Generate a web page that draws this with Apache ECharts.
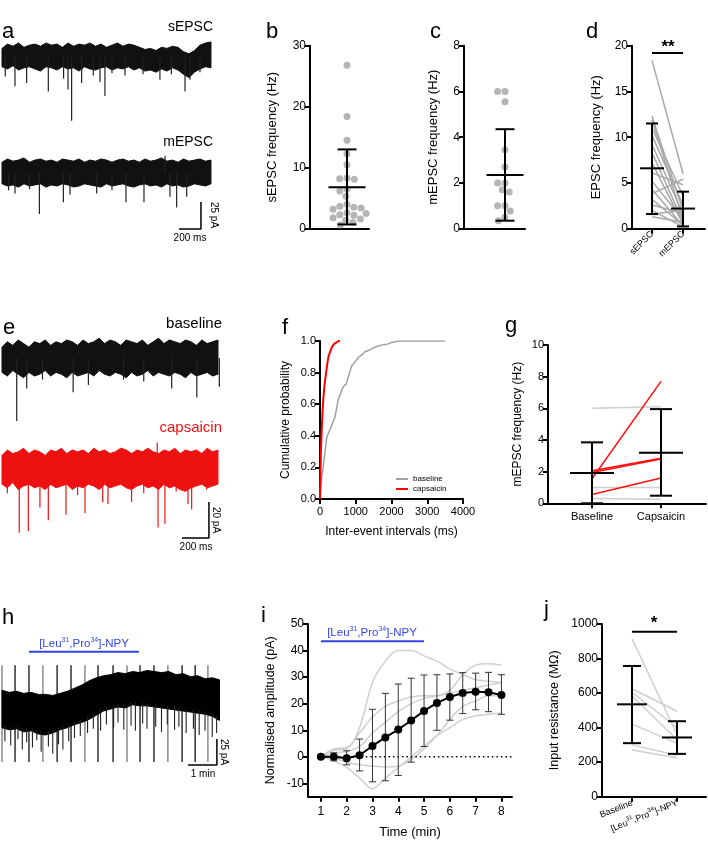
<!DOCTYPE html>
<html><head><meta charset="utf-8">
<script src="https://cdn.jsdelivr.net/npm/echarts@6/dist/echarts.min.js"></script>
<style>html,body{margin:0;padding:0;background:#fff}#c{width:708px;height:845px}</style>
</head><body><div id="c"></div><script>
const FONT = "'Liberation Sans', Arial, Helvetica, sans-serif";

// ================= DATA =================
// a: sEPSC / mEPSC traces (time ms, current pA relative to holding level)
const A_T = [0,50,100,150,200,250,300,350,400,450,500,550,600,650,700,750,800,850,900,950,1000,1050,1100,1150,1200,1250,1300,1350,1400,1450,1500,1550,1600,1650,1700,1750,1800,1850,1900];
const A_SEPSC_UP = [8,12,10,13,9,11,12,10,13,11,12,9,13,10,12,11,13,10,12,9,11,13,10,12,11,9,7,8,6,9,8,10,9,5,3,6,11,13,14];
const A_SEPSC_LO = [-9,-11,-8,-12,-10,-9,-11,-13,-9,-10,-12,-9,-11,-10,-13,-9,-11,-12,-10,-9,-12,-10,-11,-9,-12,-10,-13,-12,-14,-11,-13,-10,-12,-16,-19,-14,-11,-9,-10];
const A_SEPSC_EVENTS = [[30,-18],[118,-27],[224,-24],[421,-32],[560,-20],[600,-30],[633,-59],[724,-24],[830,-17],[891,-23],[936,-36],[1000,-15],[1118,-17],[1282,-16],[1436,-21],[1540,-16],[1664,-32],[1709,-21],[1800,-14]];
const A_MEPSC_UP = [10,13,11,12,14,10,12,13,11,12,10,13,12,11,13,10,12,11,13,12,10,12,13,11,12,10,13,11,12,14,11,12,10,13,11,12,13,11,12];
const A_MEPSC_LO = [-10,-12,-11,-13,-10,-12,-11,-10,-13,-11,-12,-10,-11,-13,-12,-10,-11,-12,-13,-10,-12,-11,-10,-12,-13,-11,-10,-12,-11,-13,-10,-12,-11,-13,-12,-10,-11,-12,-10];
const A_MEPSC_EVENTS = [[60,-16],[118,-19],[250,-15],[340,-38],[558,-27],[618,-20],[861,-19],[1000,-16],[1127,-27],[1291,-27],[1482,16],[1527,-22],[1588,-32],[1679,-22]];
const A_SCALE = [200, 25]; // ms, pA

// b: sEPSC frequency (Hz)
const B_SEPSC = [26.8,18.4,14.5,12.3,10.5,8.3,8.2,8.1,6.5,6.2,5.3,4.0,3.7,3.5,3.4,3.2,2.6,2.5,2.3,2.2,1.8,1.6,1.4,1.0,0.6];
const B_STATS = [6.8, 0.7, 13.0]; // mean, mean-SD, mean+SD

// c: mEPSC frequency (Hz)
const C_MEPSC = [6.0,6.0,5.55,3.45,2.7,2.0,2.0,1.7,1.6,1.0,1.0,0.77,0.5,0.35];
const C_STATS = [2.35, 0.35, 4.35];

// d: paired EPSC frequency (Hz)
const D_CATS = ['sEPSC','mEPSC'];
const D_SEPSC = [18.4,12.3,11.9,11.0,10.2,9.2,8.3,7.2,6.1,5.2,4.3,3.8,3.2,2.6,2.0,1.6,1.3];
const D_MEPSC = [6.0,2.0,1.0,3.6,2.6,1.6,0.8,0.5,4.8,1.0,0.3,5.4,0.4,1.7,0.2,2.0,0.7];
const D_STATS = [[6.6,1.6,11.5],[2.2,0.25,4.05]];
const D_SIG = [19.2, '**'];

// e: baseline / capsaicin traces (ms, pA)
const E_T = [0,40,80,120,160,200,240,280,320,360,400,440,480,520,560,600,640,680,720,760,800,840,880,920,960,1000,1040,1080,1120,1160,1200,1240,1280,1320,1360,1400,1440,1480,1520,1560,1600];
const E_BASE_UP = [6,9,7,10,8,6,9,8,10,7,9,8,10,9,7,10,8,9,11,8,10,9,7,10,9,8,10,7,9,11,8,10,9,8,10,9,7,10,8,9,10];
const E_BASE_LO = [-8,-10,-7,-9,-11,-8,-10,-9,-7,-10,-8,-9,-11,-8,-10,-9,-8,-10,-7,-9,-10,-8,-9,-11,-8,-10,-9,-7,-10,-8,-9,-10,-8,-9,-11,-8,-10,-9,-8,-10,-9];
const E_BASE_EVENTS = [[109,-35],[183,-17],[300,-12],[527,-19],[640,-15],[900,-12],[1050,-13],[1257,-17],[1443,-22],[1610,-16]];
const E_CAP_UP = [7,10,8,9,11,8,10,9,7,10,9,11,8,10,9,10,8,11,9,10,8,9,11,10,8,10,9,11,9,8,10,9,11,8,10,9,10,8,11,9,10];
const E_CAP_LO = [-9,-11,-8,-12,-10,-9,-11,-10,-12,-9,-11,-10,-9,-12,-10,-11,-9,-10,-12,-9,-11,-10,-9,-11,-12,-10,-9,-11,-10,-12,-9,-11,-10,-12,-13,-11,-10,-9,-11,-10,-9];
const E_CAP_EVENTS = [[40,-14],[128,-36],[195,-35],[281,-22],[343,-29],[474,-26],[560,-15],[615,-25],[746,-19],[785,-20],[960,-19],[1050,-14],[1150,14],[1156,-33],[1207,-31],[1290,-13],[1378,-20],[1405,-23],[1516,-12]];
const E_SCALE = [200, 20];

// f: cumulative probability of inter-event intervals (ms)
const F_BASE_X = [0,20,50,90,140,190,240,280,350,420,470,510,580,650,700,740,800,880,950,1020,1090,1160,1250,1350,1440,1530,1650,1770,1880,2000,2200,3500];
const F_BASE_Y = [0,0.07,0.14,0.2,0.3,0.39,0.42,0.44,0.48,0.52,0.58,0.63,0.67,0.71,0.72,0.73,0.78,0.84,0.86,0.88,0.9,0.91,0.93,0.94,0.95,0.96,0.97,0.977,0.98,0.99,1.0,1.0];
const F_CAP_X = [0,10,25,45,70,95,125,165,200,235,280,330,390,450,520,560];
const F_CAP_Y = [0,0.12,0.3,0.42,0.55,0.64,0.72,0.79,0.85,0.9,0.93,0.96,0.98,0.99,1.0,1.0];

// g: mEPSC frequency (Hz) baseline vs capsaicin
const G_CATS = ['Baseline','Capsaicin'];
const G_GRAY_BASE = [6.0,1.0,0.3];
const G_GRAY_CAP  = [6.1,1.0,0.25];
const G_RED_BASE  = [1.55,2.05,1.95,0.55];
const G_RED_CAP   = [7.7,2.85,2.8,1.6];
const G_STATS = [[1.92,0,3.85],[3.2,0.48,5.95]];

// h: holding current trace (min, pA)
const H_T = [0,0.25,0.5,0.75,1,1.25,1.5,1.75,2,2.25,2.5,2.75,3,3.25,3.5,3.75,4,4.25,4.5,4.75,5,5.25,5.5,5.75,6,6.25,6.5,6.75,7,7.25,7.5];
const H_UP = [19,17,18,16,17,15,15,14,16,18,21,24,28,31,33,34,36,35,37,36,38,37,36,37,34,35,32,33,30,31,29];
const H_LO = [-17,-19,-18,-21,-20,-23,-24,-22,-19,-17,-14,-12,-9,-5,-1,1,3,2,5,4,4,3,2,1,0,-1,-2,-3,-4,-6,-10];
const H_EVENTS = [[0.1,-30],[0.3,-34],[0.55,-28],[0.7,-38],[0.85,-31],[1.05,-36],[1.2,-29],[1.35,-40],[1.6,-35],[1.75,-42],[1.95,-33],[2.1,-38],[2.3,-30],[2.5,-27],[2.7,-25],[2.95,-22],[3.15,-18],[3.4,-20],[3.6,-14],[3.85,-17],[4.0,-12],[4.2,-19],[4.45,-15],[4.6,-20],[4.85,-13],[5.0,-18],[5.3,-16],[5.5,-21],[5.7,-14],[5.95,-19],[6.1,-16],[6.35,-22],[6.6,-18],[6.8,-24],[7.0,-20],[7.25,-26],[7.4,-22]];
const H_ARTIFACTS = [0,0.45,0.93,1.41,1.90,2.38,2.86,3.31,3.83,4.31,4.76,5.24,5.72,6.21,6.66,7.10];
const H_ARTIFACT_RANGE = [-50, 43];
const H_DRUG = [0.93, 4.72, 56];
const H_SCALE = [1, 25]; // min, pA

// i: normalised amplitude (pA) over time (min)
const I_X = [1,1.5,2,2.5,3,3.5,4,4.5,5,5.5,6,6.5,7,7.5,8];
const I_MEAN = [0,0,-0.5,0.6,4.1,7.3,10.3,13.7,17.3,20.3,22.5,24.0,24.5,24.3,23.3];
const I_LO   = [0,-1.5,-3,-5.3,-9.4,-9.0,-7.0,-2.0,3.9,10.0,13.8,16.3,17.7,17.0,16.0];
const I_HI   = [0,1.5,2.3,6.7,17.9,23.9,27.4,29.6,30.8,30.9,31.2,31.7,31.5,31.8,30.9];
const I_CELLS = [
  [0,2.5,3,11,28,36,40,40,38,36,33,31,29,28.5,28],
  [0,3,3.5,9,15,19,21,22.5,23,23,25,31,34.5,35,34.5],
  [0,1.5,2,4,9,13,17,20,22,23,24,25,26,27,28],
  [0,-1.5,-4,-8,-12,-8,-4,0,4,8,11,14,15.5,16,16.5],
  [0,-0.5,-2,-3,-3.5,-3.8,-3.5,-1,3,8,14,19,21,23,23]
];
const I_DRUG = [1, 5, 43.5];

// j: input resistance (MOhm)
const J_BASE = [915,625,605,585,420,300,270];
const J_NPY  = [360,495,400,330,310,240,225];
const J_STATS = [[535,310,757],[343,248,437]];
const J_SIG = [955, '*'];

// ================= LAYOUT / HELPERS =================
const grids=[], xAxes=[], yAxes=[], series=[], graphics=[];
function addGrid(rect, xa, ya){
  grids.push(Object.assign({containLabel:false, show:false}, rect));
  const i = grids.length-1;
  xAxes.push(Object.assign({gridIndex:i}, xa));
  yAxes.push(Object.assign({gridIndex:i}, ya));
  return i;
}
const plain = v=>String(v);
const hidden = (min,max)=>({type:'value', min, max, show:false, splitLine:{show:false}});
const axLine = {show:true, onZero:false, lineStyle:{color:'#000', width:2}};
const axTick = {show:true, length:5, lineStyle:{color:'#000', width:2}};
const lab = (fs, m, extra)=>Object.assign({color:'#000', fontSize:fs, fontFamily:FONT, margin:m, formatter:plain}, extra||{});
function yAx(min,max,interval,name,gap,fs,nfs,extra){
  return Object.assign({type:'value', min, max, interval, name, nameLocation:'middle', nameGap:gap,
    nameTextStyle:{color:'#000', fontSize:nfs, fontFamily:FONT},
    axisLine:axLine, axisTick:axTick, axisLabel:lab(fs,4), splitLine:{show:false}}, extra||{});
}
function catX(min,max,vals,cats,fs,m,rot,extraLabel){
  return {type:'value', min, max, axisLine:axLine,
    axisTick:Object.assign({}, axTick, {customValues:vals}),
    axisLabel:lab(fs, m, Object.assign({customValues:vals, rotate:rot||0,
      formatter:(v)=>{const k=vals.indexOf(v); return k>=0?cats[k]:'';}}, extraLabel||{})),
    splitLine:{show:false}};
}
const plainX = (min,max)=>({type:'value', min, max, axisLine:axLine, axisTick:{show:false}, axisLabel:{show:false}, splitLine:{show:false}});

function band(gi, T, up, lo, off, color){
  return {type:'custom', xAxisIndex:gi, yAxisIndex:gi, silent:true, clip:false, data:[[0,0]],
    renderItem:(p, api)=>{
      const pts=[];
      for(let k=0;k<T.length;k++) pts.push(api.coord([T[k], off+up[k]]));
      for(let k=T.length-1;k>=0;k--) pts.push(api.coord([T[k], off+lo[k]]));
      return {type:'polygon', shape:{points:pts}, style:{fill:color, stroke:color, lineWidth:1}};
    }};
}
function events(gi, ev, baseFn, color, w){
  return {type:'custom', xAxisIndex:gi, yAxisIndex:gi, silent:true, clip:false, data:ev,
    renderItem:(p, api)=>{
      const t=api.value(0), a=api.value(1);
      const b=baseFn(t, a);
      const p0=api.coord([t,b[0]]), p1=api.coord([t,b[1]]);
      return {type:'line', shape:{x1:p0[0],y1:p0[1],x2:p1[0],y2:p1[1]}, style:{stroke:color, lineWidth:w}};
    }};
}
function polyline(gi, pts, color, w, extra){
  return Object.assign({type:'line', xAxisIndex:gi, yAxisIndex:gi, data:pts, symbol:'none', silent:true,
    lineStyle:{color, width:w}, itemStyle:{color}, z:3}, extra||{});
}
function meanSd(gi, items, halfMean, halfCap, color, lw){
  return {type:'custom', xAxisIndex:gi, yAxisIndex:gi, data:items, z:6, silent:true, clip:false,
    renderItem:(p, api)=>{
      const x=api.value(0), m=api.value(1), lo=api.value(2), hi=api.value(3);
      const pm=api.coord([x,m]), pl=api.coord([x,lo]), ph=api.coord([x,hi]);
      const st={stroke:color, lineWidth:lw};
      return {type:'group', children:[
        {type:'line', shape:{x1:pm[0]-halfMean,y1:pm[1],x2:pm[0]+halfMean,y2:pm[1]}, style:st},
        {type:'line', shape:{x1:pl[0],y1:pl[1],x2:ph[0],y2:ph[1]}, style:st},
        {type:'line', shape:{x1:pl[0]-halfCap,y1:pl[1],x2:pl[0]+halfCap,y2:pl[1]}, style:st},
        {type:'line', shape:{x1:ph[0]-halfCap,y1:ph[1],x2:ph[0]+halfCap,y2:ph[1]}, style:st}]};
    }};
}
function swarm(values, pxPerUnit, diam){
  const order = values.map((v,i)=>i).sort((a,b)=>values[b]-values[a]);
  const placed=[], out=new Array(values.length);
  for(const i of order){
    const y=values[i]*pxPerUnit, iv=[];
    for(const q of placed){ const dy=Math.abs(q.y-y); if(dy<diam){ const dx=Math.sqrt(diam*diam-dy*dy); iv.push([q.x-dx,q.x+dx]); } }
    const cands=[0]; iv.forEach(r=>cands.push(r[0],r[1]));
    cands.sort((a,b)=>Math.abs(a)-Math.abs(b));
    let x=0;
    for(const c of cands){ if(iv.every(r=>c<=r[0]+1e-6||c>=r[1]-1e-6)){x=c;break;} }
    placed.push({x,y}); out[i]=[x, values[i]];
  }
  return out;
}
function interp(T, Y, t){
  if(t<=T[0]) return Y[0];
  for(let k=1;k<T.length;k++) if(t<=T[k]) return Y[k-1]+(Y[k]-Y[k-1])*(t-T[k-1])/(T[k]-T[k-1]);
  return Y[Y.length-1];
}
function txt(text, x, y, o){
  o=o||{};
  graphics.push({type:'text', x, y, rotation:o.rot||0, silent:true, z:50,
    style:{text, fill:o.color||'#000', fontSize:o.fs||12, fontFamily:FONT, fontWeight:o.fw||'normal',
      align:o.align||'left', verticalAlign:o.va||'middle', rich:o.rich}});
}
const NPY_RICH = (fs,c)=>({n:{fontSize:fs, fontFamily:FONT, fill:c, color:c, verticalAlign:'bottom', lineHeight:fs+2},
                         s:{fontSize:Math.round(fs*0.6), fontFamily:FONT, fill:c, color:c, verticalAlign:'top', lineHeight:fs+2}});
const NPY_TEXT = '{n|[Leu}{s|31}{n|,Pro}{s|34}{n|]-NPY}';

// ---------- trace panel a ----------
const gA = addGrid({left:2, top:20, width:228, height:220}, hidden(0,2073), hidden(-203.7,0));
const A_OFF_S = -34.3, A_OFF_M = -141.7;
series.push(band(gA, A_T, A_SEPSC_UP, A_SEPSC_LO, A_OFF_S, '#111'));
series.push(events(gA, A_SEPSC_EVENTS, (t,a)=>[A_OFF_S, A_OFF_S+a], '#222', 1.2));
series.push(band(gA, A_T, A_MEPSC_UP, A_MEPSC_LO, A_OFF_M, '#111'));
series.push(events(gA, A_MEPSC_EVENTS, (t,a)=>[A_OFF_M, A_OFF_M+a], '#222', 1.2));
{ const t0=1809, y0=-193.5;
  series.push(polyline(gA, [[t0-A_SCALE[0],y0],[t0,y0],[t0,y0+A_SCALE[1]]], '#000', 1.5)); }

// ---------- trace panel e ----------
const gE = addGrid({left:2, top:300, width:228, height:260}, hidden(0,1689), hidden(-144.4,0));
const E_OFF_B = -32.2, E_OFF_C = -93.3;
series.push(band(gE, E_T, E_BASE_UP, E_BASE_LO, E_OFF_B, '#111'));
series.push(events(gE, E_BASE_EVENTS, (t,a)=>[E_OFF_B, E_OFF_B+a], '#222', 1.2));
series.push(band(gE, E_T, E_CAP_UP, E_CAP_LO, E_OFF_C, '#ee1111'));
series.push(events(gE, E_CAP_EVENTS, (t,a)=>[E_OFF_C, E_OFF_C+a], '#ee1111', 1.2));
{ const t0=1533, y0=-132.2;
  series.push(polyline(gE, [[t0-E_SCALE[0],y0],[t0,y0],[t0,y0+E_SCALE[1]]], '#000', 1.5)); }

// ---------- trace panel h ----------
const gH = addGrid({left:2, top:600, width:228, height:190}, hidden(0,7.862), hidden(-182.7,0));
const H_OFF = -105.8;
series.push({type:'custom', xAxisIndex:gH, yAxisIndex:gH, silent:true, clip:false, data:H_ARTIFACTS.map(t=>[t,0]), z:1,
  renderItem:(p, api)=>{
    const t=api.value(0);
    const a=api.coord([t, H_OFF+H_ARTIFACT_RANGE[1]]), b=api.coord([t, H_OFF+H_ARTIFACT_RANGE[0]]);
    return {type:'line', shape:{x1:a[0],y1:a[1],x2:b[0],y2:b[1]}, style:{stroke:p.dataIndex%3===0?'#777':'#111', lineWidth:1.3}};
  }});
series.push(Object.assign(band(gH, H_T, H_UP, H_LO, H_OFF, '#000'), {z:2}));
series.push(Object.assign(events(gH, H_EVENTS, (t,a)=>[H_OFF+interp(H_T,H_LO,t)+3, H_OFF+a], '#222', 1.1), {z:2}));
series.push(polyline(gH, [[H_DRUG[0], H_OFF+H_DRUG[2]],[H_DRUG[1], H_OFF+H_DRUG[2]]], '#3344ee', 2));
{ const t0=7.41, y0=-158.7;
  series.push(polyline(gH, [[t0-H_SCALE[0],y0],[t0,y0],[t0,y0+H_SCALE[1]]], '#000', 1.5)); }

// ---------- panel b ----------
const gB = addGrid({left:310, top:45.7, width:59, height:183}, plainX(-37,22),
  yAx(0,30,10,'sEPSC frequency (Hz)',31,12,13));
series.push({type:'scatter', xAxisIndex:gB, yAxisIndex:gB, data:swarm(B_SEPSC, 183/30, 7.4), symbolSize:7,
  itemStyle:{color:'#a3a3a3'}, silent:true, z:4});
series.push(meanSd(gB, [[0].concat(B_STATS)], 18.5, 9.5, '#000', 2));

// ---------- panel c ----------
const gC = addGrid({left:464, top:45.7, width:61, height:183}, plainX(-41,20),
  yAx(0,8,2,'mEPSC frequency (Hz)',24,12,13));
series.push({type:'scatter', xAxisIndex:gC, yAxisIndex:gC, data:swarm(C_MEPSC, 183/8, 7.4), symbolSize:7,
  itemStyle:{color:'#a3a3a3'}, silent:true, z:4});
series.push(meanSd(gC, [[0].concat(C_STATS)], 18.5, 9.5, '#000', 2));

// ---------- panel d ----------
const D_XS = [20, 51];
const gD = addGrid({left:632, top:45.7, width:73, height:183},
  catX(0,73,D_XS,D_CATS,9,4,45),
  yAx(0,20,5,'EPSC frequency (Hz)',29,12,13));
D_SEPSC.forEach((s,k)=>series.push(polyline(gD, [[D_XS[0],s],[D_XS[1],D_MEPSC[k]]], '#a8a8a8', 1.5)));
series.push(meanSd(gD, D_STATS.map((s,k)=>[D_XS[k]].concat(s)), 12, 6, '#000', 2));
series.push(polyline(gD, [[D_XS[0],D_SIG[0]],[D_XS[1],D_SIG[0]]], '#000', 2));

// ---------- panel f ----------
const gF = addGrid({left:320, top:341, width:143, height:158},
  {type:'value', min:0, max:4000, interval:1000, name:'Inter-event intervals (ms)', nameLocation:'middle', nameGap:27,
   nameTextStyle:{color:'#000', fontSize:12, fontFamily:FONT}, axisLine:axLine, axisTick:axTick, axisLabel:lab(11,7), splitLine:{show:false}},
  yAx(0,1,0.2,'Cumulative probability',28,11,12,{axisLabel:lab(11,4,{formatter:v=>v.toFixed(1)})}));
series.push(polyline(gF, F_BASE_X.map((x,k)=>[x,F_BASE_Y[k]]), '#a0a0a0', 1.5, {name:'baseline', silent:false}));
series.push(polyline(gF, F_CAP_X.map((x,k)=>[x,F_CAP_Y[k]]), '#ff0000', 2, {name:'capsaicin', silent:false}));

// ---------- panel g ----------
const G_XS = [44, 113];
const gG = addGrid({left:548, top:345, width:158, height:158.3},
  catX(0,158,G_XS,G_CATS,11,8,0),
  yAx(0,10,2,'mEPSC frequency (Hz)',24,11,12));
G_GRAY_BASE.forEach((b,k)=>series.push(polyline(gG, [[G_XS[0],b],[G_XS[1],G_GRAY_CAP[k]]], '#cfcfcf', 1.5)));
G_RED_BASE.forEach((b,k)=>series.push(polyline(gG, [[G_XS[0],b],[G_XS[1],G_RED_CAP[k]]], '#ff1010', 1.5)));
series.push(meanSd(gG, G_STATS.map((s,k)=>[G_XS[k]].concat(s)), 22, 11, '#000', 2));

// ---------- panel i ----------
const gI = addGrid({left:308, top:624, width:204, height:172.7},
  {type:'value', min:0.5, max:8.41, name:'Time (min)', nameLocation:'middle', nameGap:29,
   nameTextStyle:{color:'#000', fontSize:13, fontFamily:FONT}, axisLine:axLine,
   axisTick:Object.assign({}, axTick, {customValues:I_X.filter(v=>v%1===0)}),
   axisLabel:lab(12,9,{customValues:I_X.filter(v=>v%1===0)}), splitLine:{show:false}},
  yAx(-15,50,10,'Normalised amplitude (pA)',31,12,12.5,{
    axisTick:Object.assign({}, axTick, {customValues:[-10,0,10,20,30,40,50]}),
    axisLabel:lab(12,4,{customValues:[-10,0,10,20,30,40,50]})}));
I_CELLS.forEach(c=>series.push(polyline(gI, I_X.map((x,k)=>[x,c[k]]), '#d0d0d0', 1.5, {smooth:0.35, z:2})));
series.push(polyline(gI, [[1,0],[8.41,0]], '#000', 1.5, {lineStyle:{color:'#000', width:1.5, type:[1.5,3]}, z:2}));
series.push({type:'custom', xAxisIndex:gI, yAxisIndex:gI, silent:true, clip:false, z:5,
  data:I_X.map((x,k)=>[x,I_LO[k],I_HI[k]]),
  renderItem:(p, api)=>{
    const x=api.value(0), lo=api.value(1), hi=api.value(2);
    if(hi-lo<0.01) return null;
    const a=api.coord([x,lo]), b=api.coord([x,hi]), st={stroke:'#333', lineWidth:1};
    return {type:'group', children:[
      {type:'line', shape:{x1:a[0],y1:a[1],x2:b[0],y2:b[1]}, style:st},
      {type:'line', shape:{x1:a[0]-3.5,y1:a[1],x2:a[0]+3.5,y2:a[1]}, style:st},
      {type:'line', shape:{x1:b[0]-3.5,y1:b[1],x2:b[0]+3.5,y2:b[1]}, style:st}]};
  }});
series.push({type:'line', xAxisIndex:gI, yAxisIndex:gI, data:I_X.map((x,k)=>[x,I_MEAN[k]]), symbol:'circle', symbolSize:8,
  lineStyle:{color:'#000', width:2}, itemStyle:{color:'#000'}, silent:true, z:7});
series.push(polyline(gI, [[I_DRUG[0],I_DRUG[2]],[I_DRUG[1],I_DRUG[2]]], '#3344ee', 2));

// ---------- panel j ----------
const J_XS = [30, 75];
const J_RICH = {n:{fontSize:9, fontFamily:FONT, color:'#000', verticalAlign:'bottom', lineHeight:11},
                s:{fontSize:6, fontFamily:FONT, color:'#000', verticalAlign:'top', lineHeight:11}};
const gJ = addGrid({left:602, top:624, width:104, height:172.7},
  catX(0,104,J_XS,['Baseline','NPY'],9,5,22,{rich:J_RICH,
    formatter:(v)=>v===J_XS[0]?'{n|Baseline}':(v===J_XS[1]?NPY_TEXT:'')}),
  yAx(0,1000,200,'Input resistance (MΩ)',41,12,12.5));
J_BASE.forEach((b,k)=>series.push(polyline(gJ, [[J_XS[0],b],[J_XS[1],J_NPY[k]]], '#cfcfcf', 1.5)));
series.push(meanSd(gJ, J_STATS.map((s,k)=>[J_XS[k]].concat(s)), 15, 9, '#000', 2));
series.push(polyline(gJ, [[J_XS[0],J_SIG[0]],[J_XS[1],J_SIG[0]]], '#000', 2));

// ---------- texts ----------
[['a',2,21],['b',266,21],['c',430,21],['d',586,21],['e',3,317],['f',282,317],['g',505,315],['h',2,607],['i',261,605],['j',544,599]]
  .forEach(l=>txt(l[0], l[1], l[2], {fs:22, va:'alphabetic'}));
txt('sEPSC', 213, 27, {fs:14, align:'right'});
txt('mEPSC', 213, 142, {fs:14, align:'right'});
txt('25 pA', 209, 215, {fs:10, rot:-Math.PI/2, align:'center', va:'bottom'});
txt('200 ms', 190, 238, {fs:10, align:'center'});
txt('baseline', 222, 324, {fs:15, align:'right'});
txt('capsaicin', 222, 428, {fs:15, align:'right', color:'#ee1111'});
txt('20 pA', 211, 520, {fs:10, rot:-Math.PI/2, align:'center', va:'bottom'});
txt('200 ms', 196, 547, {fs:10, align:'center'});
txt('25 pA', 219, 752, {fs:10, rot:-Math.PI/2, align:'center', va:'bottom'});
txt('1 min', 203, 774, {fs:10, align:'center'});
txt(NPY_TEXT, 84, 643, {align:'center', rich:NPY_RICH(11.5,'#3344ee')});
txt(NPY_TEXT, 372, 632, {align:'center', rich:NPY_RICH(11.5,'#3344ee')});
txt(D_SIG[1], 668, 47, {fs:17, fw:'bold', align:'center'});
txt(J_SIG[1], 654, 623, {fs:17, fw:'bold', align:'center'});

const chart = echarts.init(document.getElementById('c'), null, {width:708, height:845});
chart.setOption({
  animation:false, backgroundColor:'#fff',
  textStyle:{fontFamily:FONT},
  grid:grids, xAxis:xAxes, yAxis:yAxes, series,
  legend:{left:396, top:474, orient:'vertical', icon:'rect', itemWidth:12, itemHeight:2, itemGap:0,
    padding:0, textStyle:{fontSize:8, fontFamily:FONT, color:'#000', lineHeight:10}, data:['baseline','capsaicin'], selectedMode:false},
  graphic:graphics
});
</script></body></html>
